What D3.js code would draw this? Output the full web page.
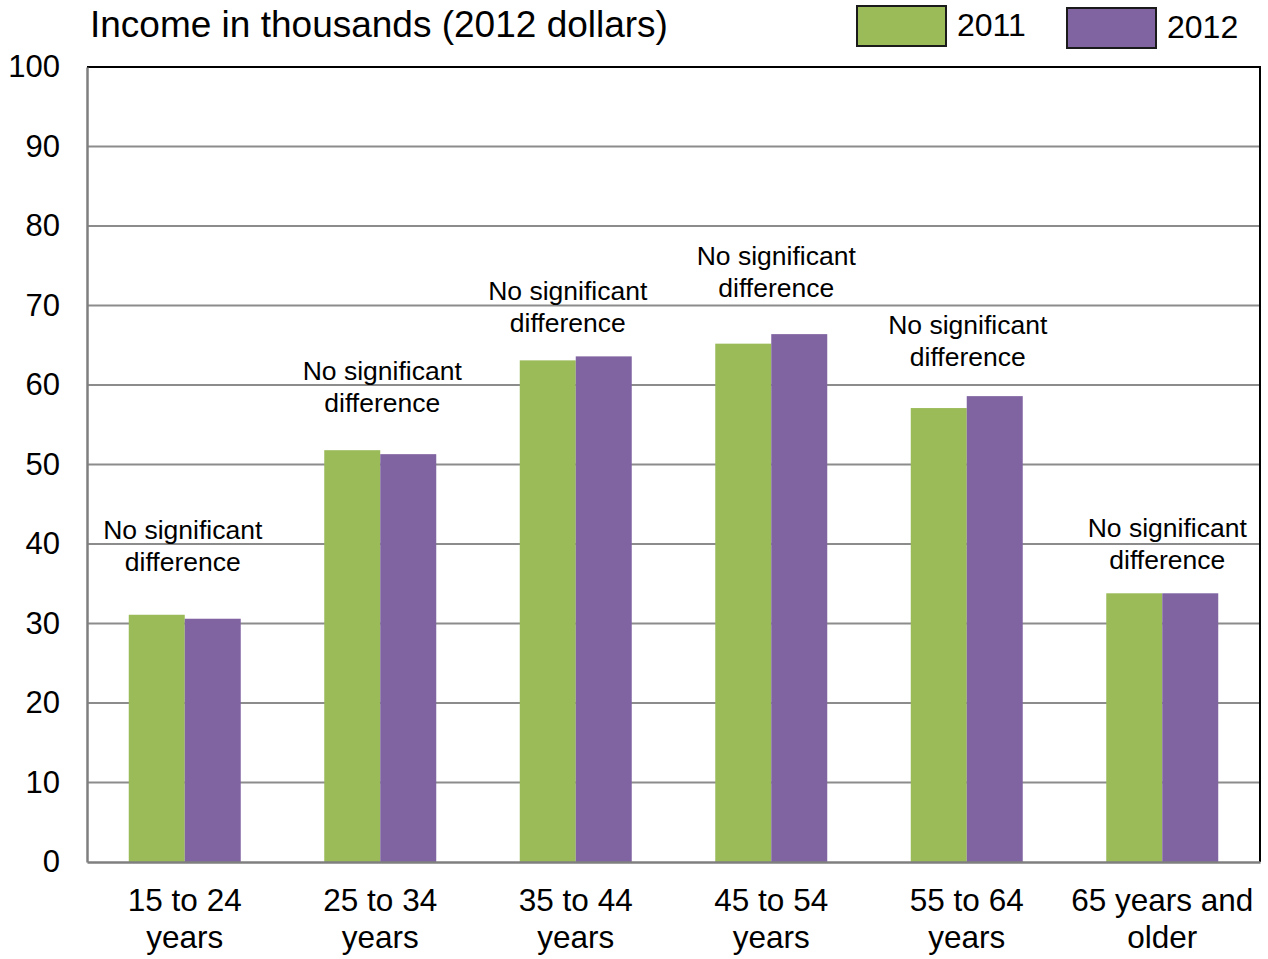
<!DOCTYPE html>
<html><head><meta charset="utf-8">
<script src="https://cdn.jsdelivr.net/npm/d3@7"></script>
<style>body{margin:0;background:#fff}svg{display:block;font-family:"Liberation Sans",Arial,sans-serif}</style>
</head><body><svg id="c" width="1268" height="959"></svg>
<script>
const categories = [["15 to 24","years"],["25 to 34","years"],["35 to 44","years"],["45 to 54","years"],["55 to 64","years"],["65 years and","older"]];
const series = ["2011","2012"];
const values2011 = [31.1, 51.8, 63.1, 65.2, 57.1, 33.8];
const values2012 = [30.6, 51.3, 63.6, 66.4, 58.6, 33.8];
const notes = ["No significant difference","No significant difference","No significant difference","No significant difference","No significant difference","No significant difference"];
const noteAt = [37.7, 57.7, 67.8, 72.2, 63.5, 38.0];
const yTicks = [0,10,20,30,40,50,60,70,80,90,100];
const colors = ["#9BBB59","#8064A2"];

const svg = d3.select("#c");
const L=87,R=1260,T=67,B=862;
const x = d3.scaleBand().domain(d3.range(categories.length)).range([L,R]).paddingInner(0).paddingOuter(0);
const bw = 56;
const y = d3.scaleLinear().domain([0,100]).range([B,T]);

// gridlines
svg.append("g").selectAll("line").data(yTicks.filter(d=>d>0&&d<100)).join("line")
  .attr("x1",L).attr("x2",R).attr("y1",d=>y(d)).attr("y2",d=>y(d))
  .attr("stroke","#8c8c8c").attr("stroke-width",2);

// bars
const data = [values2011, values2012];
data.forEach((vals,si)=>{
  svg.append("g").selectAll("rect").data(vals).join("rect")
    .attr("x",(d,i)=>x(i)+x.bandwidth()/2 - bw + si*bw)
    .attr("width",bw)
    .attr("y",d=>y(d)).attr("height",d=>B-y(d))
    .attr("fill",colors[si]);
});

// frame: top and right black
svg.append("line").attr("x1",L).attr("x2",R+1).attr("y1",T).attr("y2",T).attr("stroke","#000").attr("stroke-width",2);
svg.append("line").attr("x1",R).attr("x2",R).attr("y1",T).attr("y2",B).attr("stroke","#000").attr("stroke-width",2);

// y axis
const ya = svg.append("g").attr("transform",`translate(${L},0)`).call(d3.axisLeft(y).tickValues(yTicks).tickSize(0).tickPadding(27));
ya.select(".domain").attr("stroke","#7f7f7f").attr("stroke-width",2.5);
ya.selectAll("text").attr("font-size",31).attr("fill","#000").attr("font-family","Liberation Sans, Arial, sans-serif");

// x axis
const xa = svg.append("g").attr("transform",`translate(0,${B})`).call(d3.axisBottom(x).tickSize(0).tickFormat(""));
xa.select(".domain").attr("stroke","#7f7f7f").attr("stroke-width",2.5);
xa.selectAll(".tick").each(function(d){
  const t = d3.select(this).append("text").attr("fill","#000").attr("font-size",31.5)
    .attr("text-anchor","middle").attr("font-family","Liberation Sans, Arial, sans-serif");
  categories[d].forEach((s,k)=>t.append("tspan").attr("x",0).attr("y",49+k*37).text(s));
});

// notes
const noteDx = [-2,2,-8,5,1,5];
notes.forEach((n,i)=>{
  const words = ["No significant","difference"];
  const t = svg.append("text").attr("text-anchor","middle").attr("font-size",26.5).attr("fill","#000");
  const cx = x(i)+x.bandwidth()/2 + noteDx[i];
  t.append("tspan").attr("x",cx).attr("y",y(noteAt[i])-32+9).text(words[0]);
  t.append("tspan").attr("x",cx).attr("y",y(noteAt[i])+9).text(words[1]);
});

// title
svg.append("text").attr("x",90).attr("y",37).attr("font-size",37).attr("fill","#000").text("Income in thousands (2012 dollars)");

// legend
const lg = [{x:857,y:6},{x:1067,y:8}];
series.forEach((s,i)=>{
  svg.append("rect").attr("x",lg[i].x).attr("y",lg[i].y).attr("width",89).attr("height",40)
    .attr("fill",colors[i]).attr("stroke","#1a1a1a").attr("stroke-width",2);
  svg.append("text").attr("x",lg[i].x+100).attr("y",lg[i].y+30).attr("font-size",32).attr("fill","#000").text(s);
});
</script></body></html>
